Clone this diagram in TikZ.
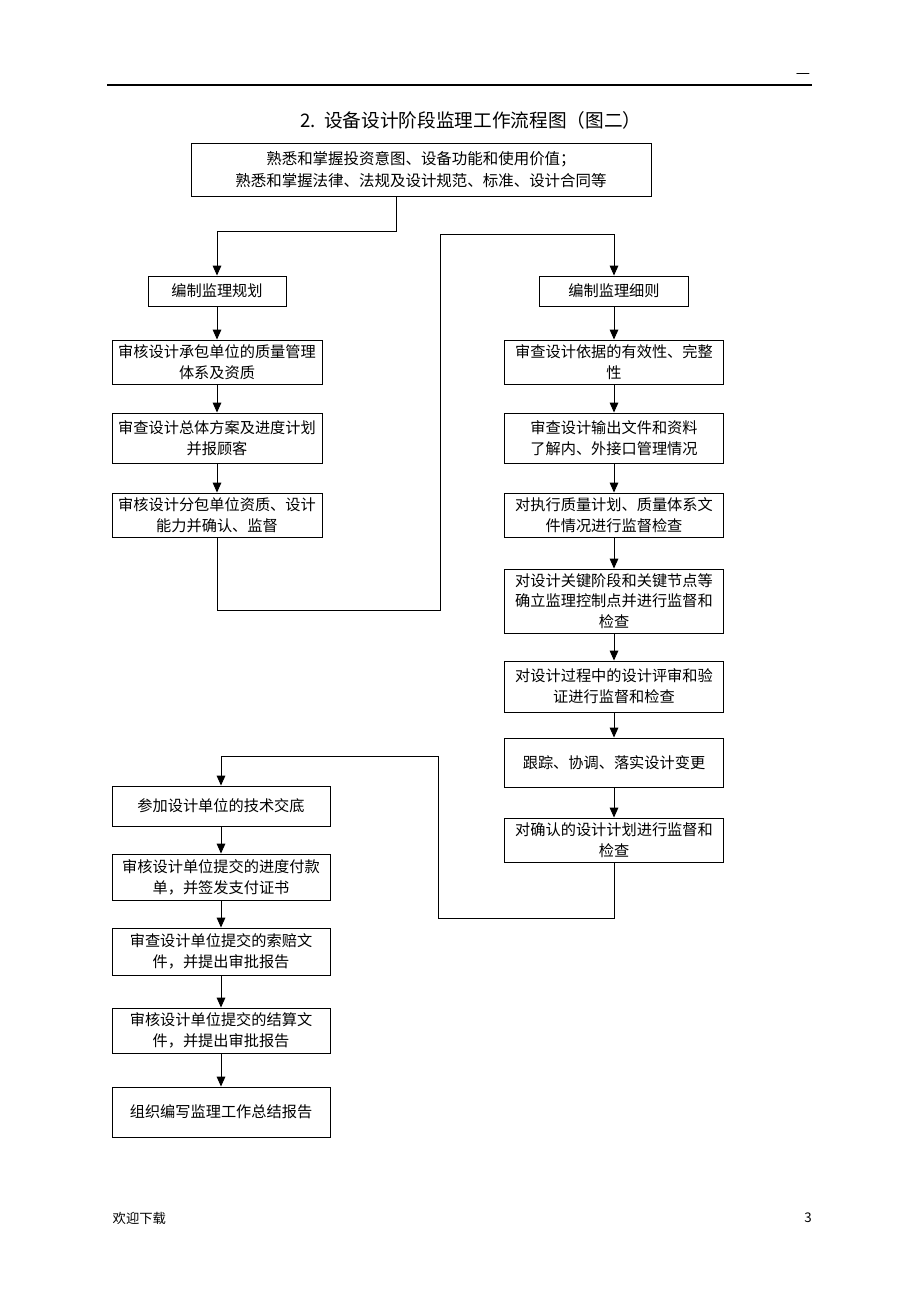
\documentclass[tikz,border=0pt]{standalone}
\usepackage{fontspec}
\setmainfont{Noto Sans CJK SC}
\usetikzlibrary{arrows.meta}
\begin{document}
\begin{tikzpicture}[x=0.75pt,y=-0.75pt,
  box/.style={draw=black,line width=0.7pt,inner sep=0pt,align=center,font=\fontsize{11.4pt}{15.6pt}\selectfont},
  lbox/.style={box,minimum width=157.5pt},
  rbox/.style={box,minimum width=164.25pt},
  bbox/.style={box,minimum width=163.5pt},
  arr/.style={line width=0.7pt,-{Triangle[length=7.5pt,width=6.5pt]}},
  conn/.style={line width=0.7pt}]
\useasboundingbox (0,0) rectangle (920,1302);
% header
\draw[line width=0.9pt] (107,85) -- (812,85);
\node[font=\fontsize{12pt}{12pt}\selectfont] (dash) at (803,76) {—};
\node[font=\fontsize{14pt}{16pt}\selectfont] (title) at (471,120) {2.\ \ 设备设计阶段监理工作流程图（图二）};
% top box
\node[box,minimum width=345pt,minimum height=39.75pt,font=\fontsize{11.6pt}{17pt}\selectfont] (top) at (421,169.5)
  {熟悉和掌握投资意图、设备功能和使用价值；\\熟悉和掌握法律、法规及设计规范、标准、设计合同等};
% left column
\node[box,minimum width=103.5pt,minimum height=22.5pt] (l0) at (217,291) {编制监理规划};
\node[lbox,minimum height=33pt] (l1) at (217,362) {审核设计承包单位的质量管理\\体系及资质};
\node[lbox,minimum height=37.5pt] (l2) at (217,438) {审查设计总体方案及进度计划\\并报顾客};
\node[lbox,minimum height=33pt] (l3) at (217,515) {审核设计分包单位资质、设计\\能力并确认、监督};
% right column
\node[box,minimum width=111.75pt,minimum height=22.5pt] (r0) at (614,291) {编制监理细则};
\node[rbox,minimum height=33pt] (r1) at (614,362) {审查设计依据的有效性、完整\\性};
\node[rbox,minimum height=37.5pt] (r2) at (614,438) {审查设计输出文件和资料\\了解内、外接口管理情况};
\node[rbox,minimum height=33pt] (r3) at (614,515) {对执行质量计划、质量体系文\\件情况进行监督检查};
\node[rbox,minimum height=48pt] (r4) at (614,601) {对设计关键阶段和关键节点等\\确立监理控制点并进行监督和\\检查};
\node[rbox,minimum height=38.25pt] (r5) at (614,686.5) {对设计过程中的设计评审和验\\证进行监督和检查};
\node[rbox,minimum height=36.75pt] (r6) at (614,762.5) {跟踪、协调、落实设计变更};
\node[rbox,minimum height=33pt] (r7) at (614,840) {对确认的设计计划进行监督和\\检查};
% bottom left column
\node[bbox,minimum height=30pt] (b1) at (221,806) {参加设计单位的技术交底};
\node[bbox,minimum height=34.5pt] (b2) at (221,877) {审核设计单位提交的进度付款\\单，并签发支付证书};
\node[bbox,minimum height=35.25pt] (b3) at (221,951.5) {审查设计单位提交的索赔文\\件，并提出审批报告};
\node[bbox,minimum height=33.75pt] (b4) at (221,1030.5) {审核设计单位提交的结算文\\件，并提出审批报告};
\node[bbox,minimum height=37.5pt] (b5) at (221,1112) {组织编写监理工作总结报告};
% footer
\node[font=\fontsize{10pt}{12pt}\selectfont,anchor=west] (foot) at (108,1218) {欢迎下载};
\node[font=\fontsize{10pt}{12pt}\selectfont] (page) at (808,1218) {3};
% connectors
\coordinate (t1) at (396,231);
\draw[arr] (top.south -| t1) -- (t1) -| (l0.north);
\draw[arr] (l0) -- (l1);
\draw[arr] (l1) -- (l2);
\draw[arr] (l2) -- (l3);
\coordinate (j1) at (440,610);
\coordinate (j2) at (440,234);
\draw[arr] (l3.south) |- (j1) -- (j2) -| (r0.north);
\draw[arr] (r0) -- (r1);
\draw[arr] (r1) -- (r2);
\draw[arr] (r2) -- (r3);
\draw[arr] (r3) -- (r4);
\draw[arr] (r4) -- (r5);
\draw[arr] (r5) -- (r6);
\draw[arr] (r6) -- (r7);
\coordinate (k1) at (438,918);
\coordinate (k2) at (438,756);
\draw[arr] (r7.south) |- (k1) -- (k2) -| (b1.north);
\draw[arr] (b1) -- (b2);
\draw[arr] (b2) -- (b3);
\draw[arr] (b3) -- (b4);
\draw[arr] (b4) -- (b5);
\end{tikzpicture}
\end{document}
